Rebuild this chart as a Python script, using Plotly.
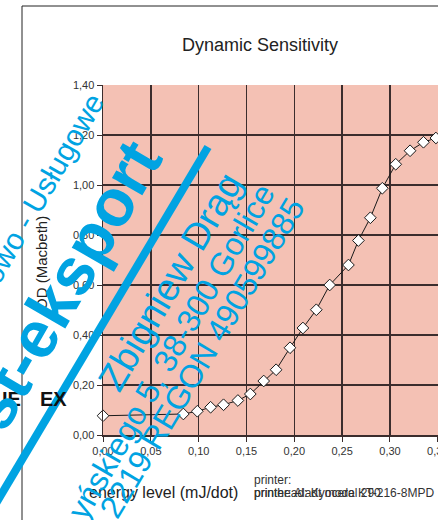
import plotly.graph_objects as go

# ---- data ----
energy = [0.000, 0.084, 0.0986, 0.1125, 0.126, 0.141, 0.154, 0.168, 0.181, 0.1955,
          0.209, 0.223, 0.237, 0.2566, 0.267, 0.2795, 0.292, 0.306, 0.321, 0.335, 0.348]
od = [0.077, 0.084, 0.095, 0.111, 0.121, 0.138, 0.164, 0.216, 0.261, 0.349,
      0.428, 0.501, 0.600, 0.680, 0.778, 0.869, 0.987, 1.083, 1.137, 1.171, 1.188]

title_text = "Dynamic Sensitivity"
x_title = "energy level (mJ/dot)"
y_title = "OD (Macbeth)"
printer_lbl = "printer:"
printer_a = "printer: Aladt model 290"
printer_b = "printhead: Kyocera KT-216-8MPD"

W, H = 438, 520
L, R, T, B = 103, 0, 85, 85
PW, PH = W - L - R, H - T - B


def P(px, py):
    return (px - L) / PW, (H - B - py) / PH


FONT = "Liberation Sans, Arial, sans-serif"
BLUE = "#00A3E2"
GRID = "#3b2d2d"

fig = go.Figure()
fig.add_trace(go.Scatter(
    x=energy, y=od, mode="lines+markers",
    line=dict(color="#1a1a1a", width=1),
    marker=dict(symbol="diamond", size=9, color="white",
                line=dict(color="#1a1a1a", width=1)),
    cliponaxis=False, showlegend=False, hoverinfo="skip"))

ann = []


def add_text(text, px, py, size, color="#222", angle=0, xa="center", bold=False, ya="middle"):
    x, y = P(px, py)
    t = f"<b>{text}</b>" if bold else text
    ann.append(dict(text=t, x=x, y=y, xref="paper", yref="paper", xanchor=xa, yanchor=ya,
                    showarrow=False, textangle=angle,
                    font=dict(family=FONT, size=size, color=color)))


add_text(title_text, 260, 45, 18)
add_text(y_title, 41, 263, 15, angle=-90)
add_text(x_title, 87, 492, 16, xa="left")
add_text(printer_lbl, 252, 480, 12, color="#333", xa="left")
add_text(printer_a, 252, 493, 12, color="#333", xa="left")
add_text(printer_b, 252, 493, 12, color="#333", xa="left")

# black partial text behind watermark
add_text("IE", 23, 399, 20, color="#111", xa="right", bold=True)
add_text("EX", 38, 399, 20, color="#111", xa="left", bold=True)

# blue watermark texts
add_text("Handlowo - Usługowe", 23, 222, 30, color=BLUE, angle=-60)
add_text("st-eksport", 64, 285, 66, color=BLUE, angle=-60, bold=True)
add_text("Zbigniew Drąg", 170, 282, 38, color=BLUE, angle=-59.5)
add_text("yńskiego 5, 38-300 Gorlice", 171, 352, 32, color=BLUE, angle=-60)
add_text("2219 REGON 490599885", 202, 358, 32, color=BLUE, angle=-59)

shapes = []
fx0, fy0 = P(22, 6)
fx1, _ = P(440, 6)
_, fy1 = P(22, 522)
shapes.append(dict(type="line", xref="paper", yref="paper", x0=fx0, y0=fy0, x1=fx1, y1=fy0,
                   line=dict(color="#222", width=1)))
shapes.append(dict(type="line", xref="paper", yref="paper", x0=fx0, y0=fy0, x1=fx0, y1=fy1,
                   line=dict(color="#222", width=1)))
lx0, ly0 = P(-5, 505)
lx1, ly1 = P(208, 147)
shapes.append(dict(type="line", xref="paper", yref="paper", x0=lx0, y0=ly0, x1=lx1, y1=ly1,
                   line=dict(color=BLUE, width=8), layer="above"))

fig.update_layout(
    width=W, height=H,
    margin=dict(l=L, r=R, t=T, b=B, pad=0, autoexpand=False),
    paper_bgcolor="white", plot_bgcolor="#F4C1B4",
    separators=",.",
    font=dict(family=FONT, size=11, color="#333"),
    annotations=ann, shapes=shapes,
    xaxis=dict(range=[0, 0.3502], dtick=0.05, tick0=0, tickformat=".2f",
               showgrid=True, gridcolor=GRID, gridwidth=1.5,
               showline=True, linecolor=GRID, linewidth=1.5,
               ticks="outside", ticklen=5, tickcolor=GRID, zeroline=False,
               ticklabeloverflow="allow", automargin=False,
               tickfont=dict(size=11, color="#333")),
    yaxis=dict(range=[0, 1.4], dtick=0.2, tick0=0, tickformat=".2f",
               showgrid=True, gridcolor=GRID, gridwidth=1.5,
               showline=True, linecolor=GRID, linewidth=1.5,
               ticks="outside", ticklen=5, tickcolor=GRID, zeroline=False,
               automargin=False,
               tickfont=dict(size=11, color="#333")),
)

fig.write_html("out.html", config={"displayModeBar": False, "staticPlot": True},
               post_script="document.body.style.margin='0';document.body.style.padding='0';"
                           "document.body.style.overflow='hidden';")
